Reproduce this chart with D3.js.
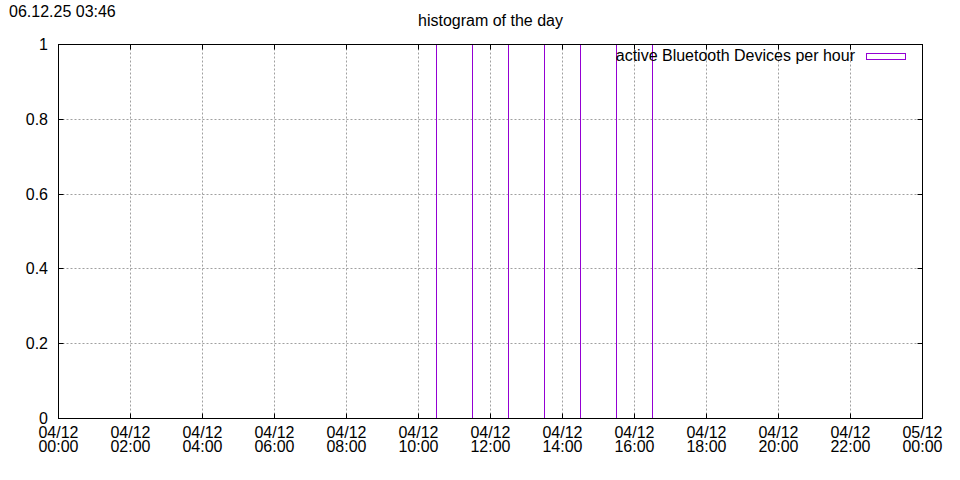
<!DOCTYPE html>
<html>
<head>
<meta charset="utf-8">
<script src="https://cdn.jsdelivr.net/npm/d3@7"></script>
<style>
body { margin: 0; background: #fff; }
text { font-family: "Liberation Sans", Arial, sans-serif; font-size: 16px; fill: #000; }
</style>
</head>
<body>
<div id="chart"></div>
<script>
// datos
var stamp = "06.12.25 03:46";
var title = "histogram of the day";
var series_name = "active Bluetooth Devices per hour";
var day_start = new Date(Date.UTC(2025, 11, 4, 0, 0));
var day_end = new Date(Date.UTC(2025, 11, 5, 0, 0));
// una caja por hora (centro de la caja)
var hours = [0, 1, 2, 3, 4, 5, 6, 7, 8, 9, 10, 11, 12, 13, 14, 15, 16, 17, 18, 19, 20, 21, 22, 23];
var counts = [0, 0, 0, 0, 0, 0, 0, 0, 0, 0, 0, 1, 1, 1, 1, 1, 1, 0, 0, 0, 0, 0, 0, 0];
var y_ticks = [0, 0.2, 0.4, 0.6, 0.8, 1];

// variables globales (ojo: "top" es window.top)
var svg_w = 960;
var svg_h = 480;
var p_left = 58.5, p_right = 922.5, p_top = 44.5, p_bottom = 418.5;
var box_color = "#9400d3";
var grid_color = "#a0a0a0";
var tick_len = 5;

var svg = d3.select("#chart")
	.append("svg")
	.attr("width", svg_w)
	.attr("height", svg_h);

// escalas
var x = d3.scaleUtc()
	.domain([day_start, day_end])
	.range([p_left, p_right]);

var y = d3.scaleLinear()
	.domain([0, 1])
	.range([p_bottom, p_top]);

var x_ticks = d3.utcHour.every(2).range(day_start, d3.utcHour.offset(day_end, 1));

function px(v) { return Math.round(v - 0.5) + 0.5; }

// grid
var grid = svg.append("g").attr("id", "grid");
grid.selectAll(".gx")
	.data(x_ticks.slice(1, -1))
	.enter()
	.append("line")
	.attr("x1", function(d) { return px(x(d)); })
	.attr("x2", function(d) { return px(x(d)); })
	.attr("y1", p_top)
	.attr("y2", p_bottom)
	.attr("stroke", grid_color)
	.attr("stroke-dasharray", "2,2");

grid.selectAll(".gy")
	.data(y_ticks.slice(1, -1))
	.enter()
	.append("line")
	.attr("x1", p_left)
	.attr("x2", p_right)
	.attr("y1", function(d) { return px(y(d)); })
	.attr("y2", function(d) { return px(y(d)); })
	.attr("stroke", grid_color)
	.attr("stroke-dasharray", "2,2");

// cajas
function edge(h) { return px(x(d3.utcMinute.offset(day_start, h * 60))); }

svg.append("g")
	.selectAll("rect")
	.data(hours.map(function(h, i) { return [h, counts[i]]; }).filter(function(d) { return d[1] > 0; }))
	.enter()
	.append("rect")
	.attr("x", function(d) { return edge(d[0] - 0.5); })
	.attr("width", function(d) { return edge(d[0] + 0.5) - edge(d[0] - 0.5); })
	.attr("y", function(d) { return y(d[1]); })
	.attr("height", function(d) { return y(0) - y(d[1]); })
	.attr("fill", "none")
	.attr("stroke", box_color);

// ticks (hacia dentro, en los cuatro lados)
var ticks = svg.append("g").attr("stroke", "#000");
x_ticks.forEach(function(d) {
	var xx = px(x(d));
	ticks.append("line").attr("x1", xx).attr("x2", xx).attr("y1", p_bottom).attr("y2", p_bottom - tick_len);
	ticks.append("line").attr("x1", xx).attr("x2", xx).attr("y1", p_top).attr("y2", p_top + tick_len);
});
y_ticks.forEach(function(d) {
	var yy = px(y(d));
	ticks.append("line").attr("x1", p_left).attr("x2", p_left + tick_len).attr("y1", yy).attr("y2", yy);
	ticks.append("line").attr("x1", p_right).attr("x2", p_right - tick_len).attr("y1", yy).attr("y2", yy);
});

// borde
svg.append("rect")
	.attr("x", p_left).attr("y", p_top)
	.attr("width", p_right - p_left).attr("height", p_bottom - p_top)
	.attr("fill", "none")
	.attr("stroke", "#000");

// etiquetas de los ejes
var fmt_day = d3.utcFormat("%d/%m");
var fmt_hour = d3.utcFormat("%H:%M");
var xl = svg.append("g").selectAll("text")
	.data(x_ticks)
	.enter()
	.append("text")
	.attr("text-anchor", "middle");
xl.append("tspan")
	.attr("x", function(d) { return x(d); })
	.attr("y", 438)
	.text(function(d) { return fmt_day(d); });
xl.append("tspan")
	.attr("x", function(d) { return x(d); })
	.attr("y", 452)
	.text(function(d) { return fmt_hour(d); });

svg.append("g").selectAll("text")
	.data(y_ticks)
	.enter()
	.append("text")
	.attr("x", 48)
	.attr("y", function(d) { return y(d) + 5.5; })
	.attr("text-anchor", "end")
	.text(function(d) { return d3.format("")(d); });

// titulo y fecha
svg.append("text")
	.attr("x", 9)
	.attr("y", 17)
	.text(stamp);

svg.append("text")
	.attr("x", (p_left + p_right) / 2)
	.attr("y", 26)
	.attr("text-anchor", "middle")
	.text(title);

// leyenda
svg.append("text")
	.attr("x", 855)
	.attr("y", 61)
	.attr("text-anchor", "end")
	.text(series_name);

svg.append("rect")
	.attr("x", 866.5)
	.attr("y", 53.5)
	.attr("width", 39)
	.attr("height", 6)
	.attr("fill", "none")
	.attr("stroke", box_color);
</script>
</body>
</html>
